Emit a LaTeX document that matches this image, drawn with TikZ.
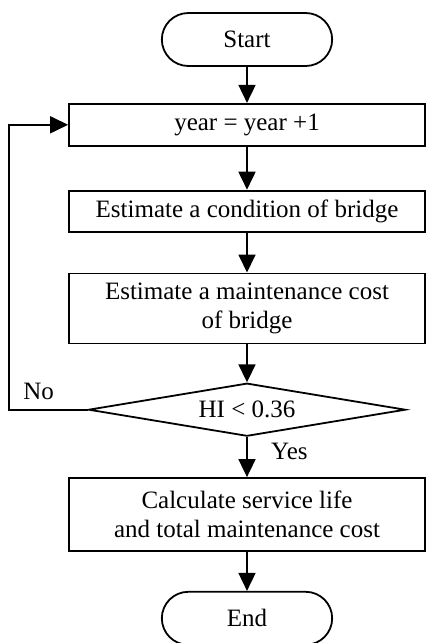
\documentclass[tikz,border=0pt]{standalone}
\usepackage{fontspec}
\setmainfont{Liberation Serif}
\usetikzlibrary{arrows.meta,positioning,shapes.geometric,shapes.misc}

\begin{document}
\begin{tikzpicture}[x=1pt,y=1pt,>={Triangle[length=18pt,width=17pt]},line width=1.8pt,
    font=\fontsize{25}{29}\selectfont,
    term/.style={rounded rectangle,draw,minimum width=177pt,minimum height=53pt},
    proc/.style={rectangle,draw,align=center,minimum width=356pt},
    dec/.style={diamond,draw,aspect=5.8,inner sep=0pt,minimum width=317pt,minimum height=53pt}]
   \useasboundingbox (0,0) rectangle (426,-643);

   \node[term]                    (start) at (247,-39.5)      {Start};
   \node[proc,minimum height=42pt] (yr)   [below=36pt of start] {year = year +1};
   \node[proc,minimum height=41pt] (cond) [below=43pt of yr]    {Estimate a condition of bridge};
   \node[proc,minimum height=70pt] (cost) [below=40pt of cond]  {Estimate a maintenance cost\\of bridge};
   \node[dec]                     (hi)   [below=38pt of cost]  {HI < 0.36};
   \node[proc,minimum height=73pt] (calc) [below=40pt of hi]    {Calculate service life\\and total maintenance cost};
   \node[term]                    (end)  [below=39pt of calc]  {End};
   \coordinate[left=79pt of hi.west] (loop);

   \path[->] (start) edge (yr)
             (yr)    edge (cond)
             (cond)  edge (cost)
             (cost)  edge (hi)
             (hi)    edge node[right=20pt,pos=0.35] {Yes} (calc)
             (calc)  edge (end);
   \draw[->] (hi.west) -- node[above=6pt,pos=0.62] {No} (loop) |- (yr.west);
\end{tikzpicture}
\end{document}
